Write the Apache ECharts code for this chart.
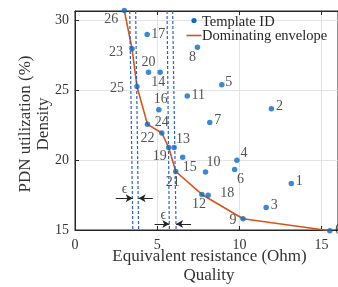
<!DOCTYPE html>
<html>
<head>
<meta charset="utf-8">
<script src="https://cdn.jsdelivr.net/npm/echarts@6/dist/echarts.min.js"></script>
<style>
html, body { margin: 0; padding: 0; background: #fff; }
#main { width: 338px; height: 287px; }
</style>
</head>
<body>
<div id="main"></div>
<script>
// template ids and their (resistance, utilization) values
var templateIds = [0, 1, 2, 3, 4, 5, 6, 7, 8, 9, 10, 11, 12, 13, 14, 15, 16, 17, 18, 19, 20, 21, 22, 23, 24, 25, 26];
var resistance = [15.5, 13.16, 11.95, 11.63, 9.85, 8.93, 9.71, 8.2, 7.45, 10.22, 7.94, 6.83, 7.72, 6.03, 5.18, 6.55, 5.1, 4.39, 8.1, 5.7, 4.47, 6.13, 4.41, 3.47, 5.28, 3.77, 3.0];
var utilization = [14.95, 18.32, 23.67, 16.61, 19.99, 25.38, 19.32, 22.69, 28.06, 15.8, 19.15, 24.57, 17.54, 20.89, 26.28, 20.2, 23.6, 28.97, 17.49, 20.89, 26.28, 19.18, 22.55, 27.95, 21.93, 25.26, 30.68];
// ids on the dominating envelope, in drawing order
var envelopeIds = [26, 23, 25, 22, 24, 19, 21, 12, 9, 0];
// epsilon band boundaries (x at top, x at bottom)
var bandTop = [3.33, 3.69, 5.60, 5.94];
var bandBottom = [3.52, 3.87, 5.74, 6.15];
// epsilon arrows: [fromX, toX, y]
var arrowFrom = [2.48, 4.73, 4.84, 7.06];
var arrowTo = [3.51, 3.87, 5.74, 6.15];
var arrowY = [17.26, 17.26, 15.42, 15.42];
var epsX = [3.02, 5.38];
var epsY = [17.9, 16.07];

var xMin = 0, xMax = 16, yMin = 15, yMax = 30.65;
var serif = "'Liberation Serif', 'Times New Roman', serif";
var blue = '#0a6cc4';
var orange = '#d95319';
var ink = '#262626';

// label offsets from the point (px)
var labelOffset = {
    0: [9, 0], 1: [8, -2], 2: [8, -2], 3: [8, -2], 4: [7, -7], 5: [7, -2],
    6: [6, 10], 7: [8, -2], 8: [-5, 10], 9: [-10, 2], 10: [8, -10], 11: [11, -1],
    12: [-3, 10], 13: [9, -8], 14: [-2, 10], 15: [7, 10], 16: [2, -10], 17: [11, 0],
    18: [19, -2], 19: [-9, 9], 20: [0, -10], 21: [-3, 11], 22: [0, 14], 23: [-16, 4],
    24: [0, -11], 25: [-20, 2], 26: [-13, 9]
};

var points = templateIds.map(function (id, i) {
    return {
        name: String(id),
        value: [resistance[i], utilization[i]],
        label: { offset: labelOffset[id] }
    };
});

var envelope = envelopeIds.map(function (id) {
    return [resistance[id], utilization[id]];
});

var bandLines = bandTop.map(function (t, i) {
    return [{ coord: [t, yMax] }, { coord: [bandBottom[i], yMin] }];
});

var arrowLines = arrowFrom.map(function (f, i) {
    return [{ coord: [f, arrowY[i]], symbol: 'none' }, { coord: [arrowTo[i], arrowY[i]], symbol: 'arrow' }];
});

var epsData = epsX.map(function (x, i) {
    return { name: '\u03f5', value: [x, epsY[i]] };
});

var myChart = echarts.init(document.getElementById('main'));
var option = {
    animation: false,
    backgroundColor: '#fff',
    grid: {
        left: 75, top: 11, right: -3, bottom: 57,
        show: true, borderColor: ink, borderWidth: 1
    },
    xAxis: [{
        type: 'value', min: xMin, max: xMax, interval: 5,
        axisLine: { show: true, onZero: false, lineStyle: { color: ink } },
        axisTick: { show: true, inside: true, length: 4, lineStyle: { color: ink } },
        axisLabel: { color: '#333', fontFamily: serif, fontSize: 14, margin: 8, showMaxLabel: false },
        splitLine: { show: true, lineStyle: { color: '#e3e3e3' } }
    }, {
        type: 'value', position: 'top', min: xMin, max: xMax, interval: 5,
        axisLine: { show: true, lineStyle: { color: ink } },
        axisTick: { show: true, inside: true, length: 4, lineStyle: { color: ink } },
        axisLabel: { show: false },
        splitLine: { show: false }
    }],
    yAxis: {
        type: 'value', min: yMin, max: yMax, interval: 5,
        axisLine: { show: true, onZero: false, lineStyle: { color: ink } },
        axisTick: { show: true, inside: true, length: 4, lineStyle: { color: ink } },
        axisLabel: { color: '#333', fontFamily: serif, fontSize: 14, margin: 6, showMaxLabel: false },
        splitLine: { show: true, lineStyle: { color: '#e3e3e3' } }
    },
    series: [{
        name: 'bands',
        type: 'line',
        data: [],
        markLine: {
            silent: true, symbol: 'none', animation: false,
            label: { show: false },
            lineStyle: { color: '#2a62c9', type: [3, 2], width: 1.2 },
            emphasis: { disabled: true },
            data: bandLines
        }
    }, {
        name: 'arrows',
        type: 'line',
        data: [],
        markLine: {
            silent: true, animation: false, symbolSize: [6, 7],
            label: { show: false },
            lineStyle: { color: ink, type: 'solid', width: 1 },
            emphasis: { disabled: true },
            data: arrowLines
        }
    }, {
        name: 'Dominating envelope',
        type: 'line',
        data: envelope,
        symbol: 'none',
        z: 3,
        lineStyle: { color: orange, width: 1.6 }
    }, {
        name: 'Template ID',
        type: 'scatter',
        data: points,
        symbolSize: 5.5,
        clip: false,
        z: 4,
        itemStyle: { color: blue },
        label: {
            show: true, position: 'inside', formatter: '{b}',
            color: ink, fontFamily: serif, fontSize: 14
        }
    }, {
        name: 'eps',
        type: 'scatter',
        data: epsData,
        symbolSize: 0,
        label: {
            show: true, position: 'inside', formatter: '{b}',
            color: ink, fontFamily: serif, fontSize: 14
        }
    }],
    graphic: [
        { type: 'circle', z: 10, shape: { cx: 194, cy: 20.5, r: 2.6 }, style: { fill: blue } },
        { type: 'text', z: 10, x: 202, y: 22,
          style: { text: 'Template ID', font: '14.5px ' + serif, fill: ink, verticalAlign: 'middle' } },
        { type: 'line', z: 10, shape: { x1: 186.5, y1: 35.5, x2: 201.5, y2: 35.5 }, style: { stroke: orange, lineWidth: 1.6 } },
        { type: 'text', z: 10, x: 202, y: 36,
          style: { text: 'Dominating envelope', font: '14.5px ' + serif, fill: ink, verticalAlign: 'middle' } },
        { type: 'text', x: 26, y: 124, rotation: Math.PI / 2,
          style: { text: 'PDN utilization (%)', font: '17px ' + serif, fill: '#333', align: 'center', verticalAlign: 'middle' } },
        { type: 'text', x: 44, y: 124, rotation: Math.PI / 2,
          style: { text: 'Density', font: '17px ' + serif, fill: '#333', align: 'center', verticalAlign: 'middle' } },
        { type: 'text', x: 209.5, y: 257,
          style: { text: 'Equivalent resistance (Ohm)', font: '17px ' + serif, fill: '#333', align: 'center', verticalAlign: 'middle' } },
        { type: 'text', x: 209, y: 276,
          style: { text: 'Quality', font: '17px ' + serif, fill: '#333', align: 'center', verticalAlign: 'middle' } }
    ]
};
myChart.setOption(option);
</script>
</body>
</html>
